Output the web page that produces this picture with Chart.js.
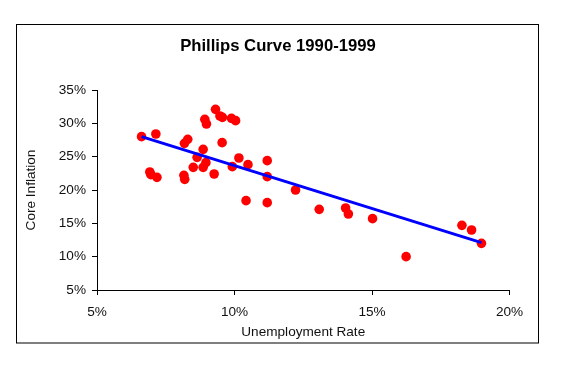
<!DOCTYPE html>
<html>
<head>
<meta charset="utf-8">
<script src="https://cdn.jsdelivr.net/npm/chart.js@4/dist/chart.umd.min.js"></script>
<style>
  body { margin: 0; background: #fff; }
  canvas { display: block; }
</style>
</head>
<body>
<canvas id="phillipsChart" width="569" height="370"></canvas>
<script>
// values (percent)
const unemployment = [6.62, 7.14, 6.92, 6.96, 7.18, 8.18, 8.30, 8.16, 8.19, 8.50,
  8.64, 8.86, 8.86, 8.96, 8.92, 8.98, 9.31, 9.47, 9.56, 9.89,
  10.04, 9.55, 9.26, 9.92, 10.16, 10.49, 10.42, 11.19, 11.19, 11.19,
  12.22, 13.08, 14.04, 14.14, 15.02, 16.24, 18.27, 18.62, 18.98];
const coreInflation = [28.0, 28.4, 22.7, 22.3, 21.9, 27.0, 27.6, 22.2, 21.6, 23.4,
  24.9, 26.1, 23.4, 24.1, 30.6, 29.9, 32.1, 31.1, 30.9, 30.75,
  30.4, 27.1, 22.4, 23.5, 24.8, 23.8, 18.4, 24.4, 22.0, 18.1,
  20.0, 17.1, 17.3, 16.4, 15.7, 10.0, 14.7, 14.0, 12.0];
const trendX = [6.62, 18.98];
const trendY = [28.0, 12.1];
const xTicks = [5, 10, 15, 20];
const yTicks = [5, 10, 15, 20, 25, 30, 35];

const font = 'Liberation Sans, Arial, sans-serif';

// frame + title drawn by hand, like the excel chart box
const frame = {
  id: 'frame',
  beforeDraw(chart) {
    const c = chart.ctx;
    c.save();
    c.fillStyle = '#fff';
    c.fillRect(0, 0, chart.width, chart.height);
    c.strokeStyle = '#000';
    c.lineWidth = 1;
    c.strokeRect(16.5, 24.5, 522, 318.5);
    c.fillStyle = '#000';
    c.font = 'bold 16.7px ' + font;
    c.textAlign = 'center';
    c.textBaseline = 'middle';
    c.fillText('Phillips Curve 1990-1999', 278, 46);
    c.restore();
  }
};

const ctx = document.getElementById('phillipsChart').getContext('2d');

new Chart(ctx, {
  type: 'scatter',
  data: {
    datasets: [
      {
        label: 'Core Inflation',
        data: unemployment.map((u, i) => ({ x: u, y: coreInflation[i] })),
        backgroundColor: '#ff0000',
        borderWidth: 0,
        pointRadius: 4.8,
        order: 2
      },
      {
        label: 'Trend',
        type: 'line',
        data: trendX.map((u, i) => ({ x: u, y: trendY[i] })),
        borderColor: '#0000ff',
        borderWidth: 3,
        pointRadius: 0,
        fill: false,
        order: 1
      }
    ]
  },
  options: {
    responsive: false,
    animation: false,
    devicePixelRatio: 1,
    layout: { padding: { left: 0, top: 90, right: 59.5, bottom: 0 } },
    plugins: {
      legend: { display: false },
      title: { display: false },
      tooltip: { enabled: false }
    },
    scales: {
      x: {
        type: 'linear',
        min: 5,
        max: 20,
        afterBuildTicks: axis => { axis.ticks = xTicks.map(v => ({ value: v })); },
        afterFit: axis => { axis.height = 80; },
        grid: { drawOnChartArea: false, drawTicks: true, tickLength: 5, color: '#000' },
        border: { display: true, color: '#000', width: 1 },
        ticks: {
          padding: 9,
          color: '#111',
          font: { family: font, size: 13.6 },
          callback: v => v + '%'
        },
        title: {
          display: true,
          text: 'Unemployment Rate',
          color: '#111',
          font: { family: font, size: 13.6 },
          padding: { top: 0, bottom: 30 }
        }
      },
      y: {
        min: 5,
        max: 35,
        afterBuildTicks: axis => { axis.ticks = yTicks.map(v => ({ value: v })); },
        afterFit: axis => { axis.width = 97; },
        grid: { drawOnChartArea: false, drawTicks: true, tickLength: 5, color: '#000' },
        border: { display: true, color: '#000', width: 1 },
        ticks: {
          padding: 6,
          color: '#111',
          font: { family: font, size: 13.6 },
          callback: v => v + '%'
        },
        title: {
          display: true,
          text: 'Core Inflation',
          color: '#111',
          font: { family: font, size: 13.6 },
          padding: { top: 23, bottom: 0 }
        }
      }
    }
  },
  plugins: [frame]
});
</script>
</body>
</html>
